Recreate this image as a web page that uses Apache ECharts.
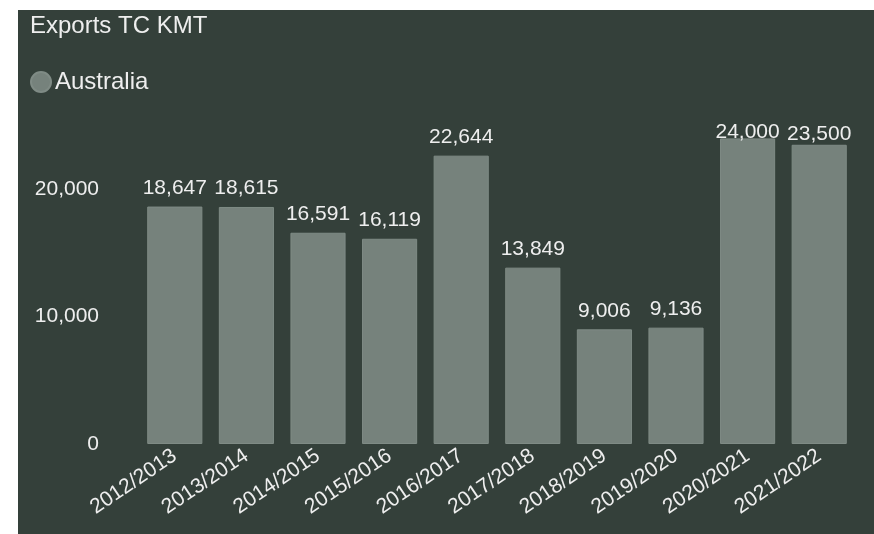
<!DOCTYPE html>
<html>
<head>
<meta charset="utf-8">
<script src="https://cdn.jsdelivr.net/npm/echarts@6/dist/echarts.min.js"></script>
<style>
  html, body { margin: 0; padding: 0; background: #ffffff; }
  #chart { position: absolute; left: 18px; top: 10px; width: 856px; height: 524px; }
</style>
</head>
<body>
<div id="chart"></div>
<script>
// ============================================================
// DATA
// ============================================================

const seasons = ['2012/2013', '2013/2014', '2014/2015', '2015/2016', '2016/2017',
                 '2017/2018', '2018/2019', '2019/2020', '2020/2021', '2021/2022'];
const australiaExports = [18647, 18615, 16591, 16119, 22644, 13849, 9006, 9136, 24000, 23500];
const yTicks = [0, 10000, 20000];

const bg = '#34403a';
const barColor = '#76827c';
const textColor = '#eeeeee';

// the two tallest bars have their labels squeezed against the top of the plot
const labelDistance = [8, 8, 8, 8, 8, 8, 8, 8, -4, 0];

// ============================================================
// CHART
// ============================================================

const chart = echarts.init(document.getElementById('chart'));

const barData = australiaExports.map(function (v, i) {
  return { value: v, label: { distance: labelDistance[i] } };
});

chart.setOption({
  backgroundColor: bg,
  animation: false,
  textStyle: { fontFamily: 'Liberation Sans, Arial, sans-serif' },
  title: {
    text: 'Exports TC KMT',
    left: 12,
    top: 4,
    padding: 0,
    textStyle: { color: textColor, fontSize: 24, fontWeight: 'normal' }
  },
  legend: {
    data: ['Australia'],
    left: 12,
    top: 60,
    padding: 0,
    icon: 'circle',
    itemWidth: 20,
    itemHeight: 20,
    itemGap: 4,
    textStyle: { color: textColor, fontSize: 24, padding: [0, 0, 0, -1] }
  },
  grid: { left: 121, right: 19, top: 52, bottom: 90 },
  xAxis: {
    type: 'category',
    data: seasons,
    axisLine: { show: false },
    axisTick: { show: false },
    axisLabel: { color: textColor, fontSize: 21, rotate: 34, margin: 10, interval: 0 }
  },
  yAxis: {
    type: 'value',
    min: 0,
    max: 30000,
    interval: 10000,
    splitLine: { show: false },
    axisLabel: {
      color: textColor,
      fontSize: 21,
      margin: 40,
      formatter: function (v) {
        return yTicks.indexOf(v) >= 0 ? v.toLocaleString('en-US') : '';
      }
    }
  },
  series: [{
    name: 'Australia',
    type: 'bar',
    data: barData,
    barCategoryGap: '23%',
    itemStyle: { color: barColor, borderColor: '#7f8b85', borderWidth: 1 },
    label: {
      show: true,
      position: 'top',
      distance: 8,
      color: textColor,
      fontSize: 21,
      formatter: function (p) { return p.value.toLocaleString('en-US'); }
    }
  }]
});
</script>
</body>
</html>
